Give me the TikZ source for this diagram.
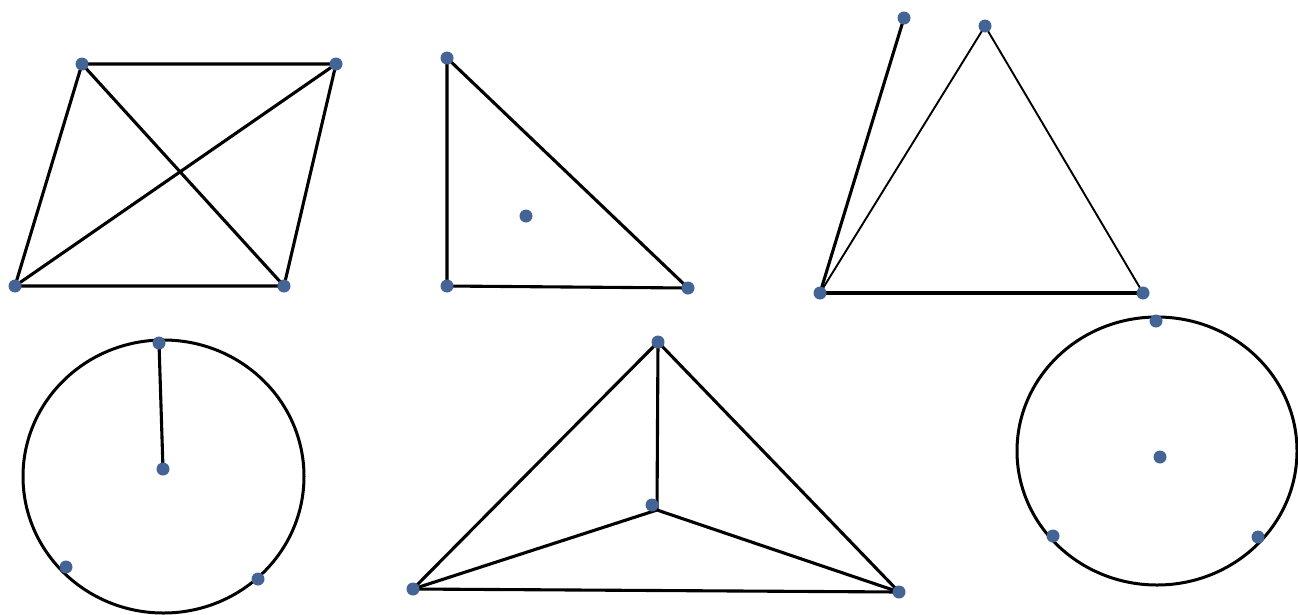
\documentclass[tikz,border=0pt]{standalone}
\pgfdeclarelayer{background}
\pgfsetlayers{background,main}
\definecolor{dotblue}{RGB}{68,100,150}
\begin{document}
\begin{tikzpicture}[x=1pt,y=-1pt,
  dot/.style={circle,fill=dotblue,inner sep=0pt,minimum size=13pt},
  edge/.style={draw=black,line width=3.1pt},
  thinedge/.style={draw=black,line width=1.9pt},
  ring/.style={draw=black,line width=3pt}]
\useasboundingbox (0,0) rectangle (1298,614);
% figure 1
\node[dot] (p1) at (82,64) {};
\node[dot] (p2) at (336,64) {};
\node[dot] (p3) at (15,286) {};
\node[dot] (p4) at (284,286) {};
% figure 2
\node[dot] (t1) at (447,58) {};
\node[dot] (t2) at (447,286) {};
\node[dot] (t3) at (688,288) {};
\node[dot] (t4) at (526,216) {};
% figure 3
\node[dot] (q1) at (904,18) {};
\node[dot] (q2) at (985,26) {};
\node[dot] (q3) at (820,293) {};
\node[dot] (q4) at (1143,293) {};
% figure 4
\node[dot] (c1) at (159,343) {};
\node[dot] (c2) at (163,469) {};
\node[dot] (c3) at (66,567) {};
\node[dot] (c4) at (258,579) {};
\coordinate (c0) at (163.5,476.5);
% figure 5
\node[dot] (r1) at (658,342) {};
\node[dot] (r2) at (652,505) {};
\node[dot] (r3) at (413,589) {};
\node[dot] (r4) at (899,592) {};
\coordinate (rj) at (657,510);
% figure 6
\node[dot] (s1) at (1156,321) {};
\node[dot] (s2) at (1160,457) {};
\node[dot] (s3) at (1053,536) {};
\node[dot] (s4) at (1258,537) {};
\coordinate (s0) at (1157,451);
\begin{pgfonlayer}{background}
\fill[white] (0,0) rectangle (1298,614);
\draw[edge] (p1.center) -- (p2.center) -- (p4.center) -- (p3.center) -- cycle;
\draw[edge] (p1.center) -- (p4.center);
\draw[edge] (p3.center) -- (p2.center);
\draw[edge] (t1.center) -- (t2.center) -- (t3.center) -- cycle;
\draw[edge] (q3.center) -- (q1.center);
\draw[thinedge] (q3.center) -- (q2.center) -- (q4.center);
\draw[edge] (q3.center) -- (q4.center);
\draw[ring] (c0) ellipse [x radius=140.5pt, y radius=136.5pt];
\draw[edge] (c1.center) -- (c2.center);
\draw[edge] (r1.center) -- (r3.center) -- (r4.center) -- cycle;
\draw[edge] (r1.center) -- (rj);
\draw[edge] (r3.center) -- (rj) -- (r4.center);
\draw[ring] (s0) ellipse [x radius=140pt, y radius=134pt];
\end{pgfonlayer}
\end{tikzpicture}
\end{document}
